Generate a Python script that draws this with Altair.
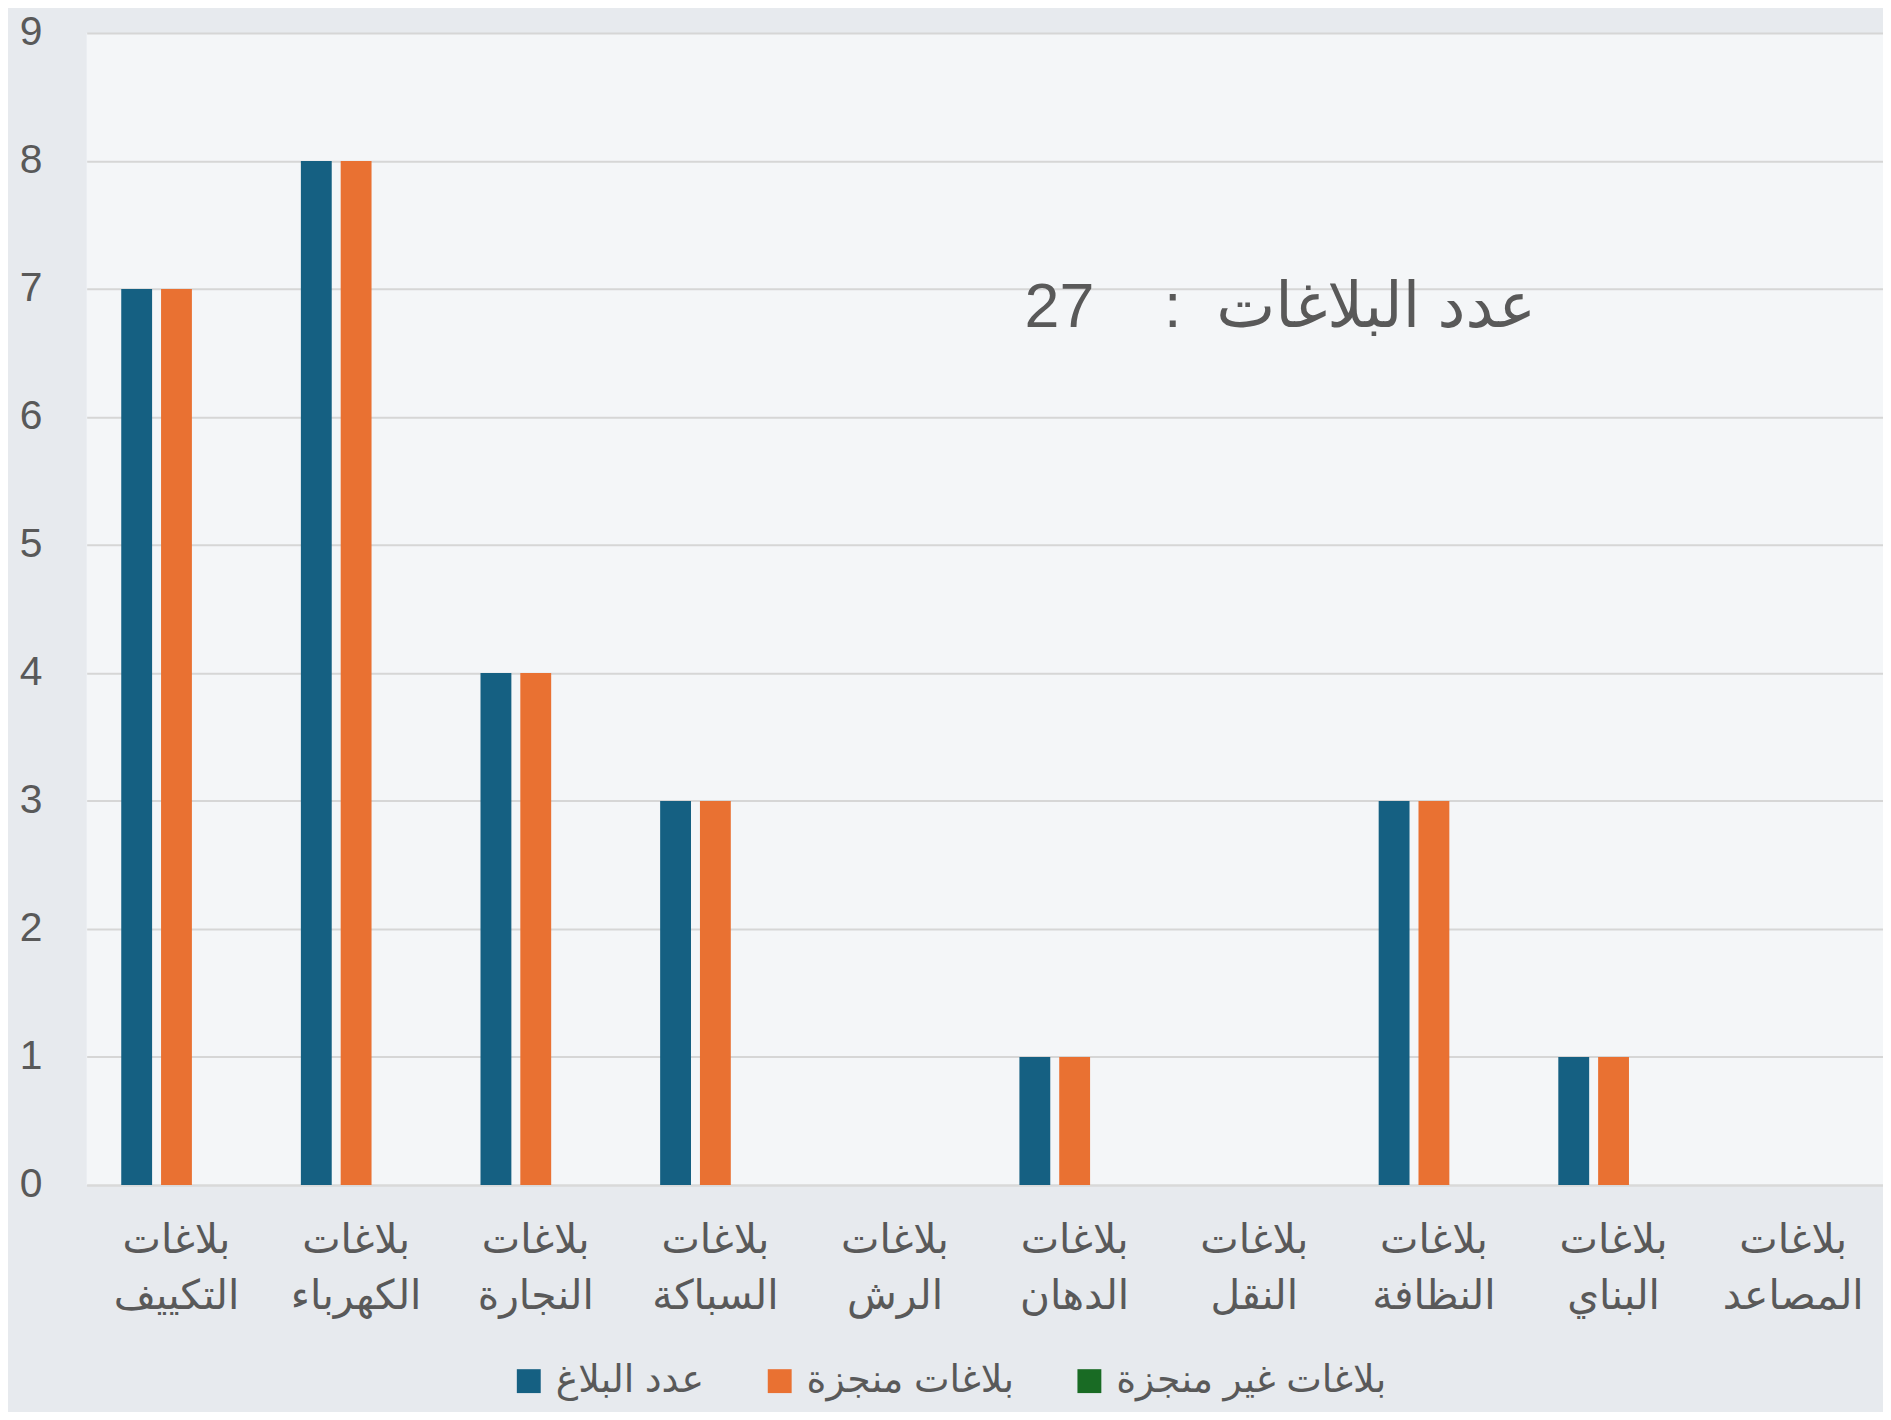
import altair as alt
import pandas as pd

categories = [
    "بلاغات التكييف",
    "بلاغات الكهرباء",
    "بلاغات النجارة",
    "بلاغات السباكة",
    "بلاغات الرش",
    "بلاغات الدهان",
    "بلاغات النقل",
    "بلاغات النظافة",
    "بلاغات البناي",
    "بلاغات المصاعد",
]
series = ["عدد البلاغ", "بلاغات منجزة", "بلاغات غير منجزة"]
reported = [7, 8, 4, 3, 0, 1, 0, 3, 1, 0]
completed = [7, 8, 4, 3, 0, 1, 0, 3, 1, 0]
not_completed = [0, 0, 0, 0, 0, 0, 0, 0, 0, 0]
colors = ["#156082", "#E97132", "#196B24"]
y_ticks = [0, 1, 2, 3, 4, 5, 6, 7, 8, 9]

note_category = ["بلاغات النقل"]
note_value = [6.85]
note_text = ["27\u00a0\u00a0\u00a0\u00a0:\u00a0\u00a0عدد البلاغات"]

rows = []
for s, vals in zip(series, [reported, completed, not_completed]):
    for c, v in zip(categories, vals):
        rows.append({"category": c, "series": s, "value": v})
df = pd.DataFrame(rows)
note_df = pd.DataFrame({"category": note_category, "value": note_value, "text": note_text})

FONT = "Liberation Sans, DejaVu Sans, sans-serif"
TXT = "#595959"

x_enc = alt.X(
    "category:N",
    sort=categories,
    scale=alt.Scale(paddingInner=0.385, paddingOuter=0.1925),
    axis=alt.Axis(
        title=None,
        labelAngle=0,
        labelExpr="split(datum.label, ' ')",
        labelFontSize=41,
        labelLineHeight=56,
        labelPadding=36,
        labelColor=TXT,
        labelFont=FONT,
        ticks=False,
        domain=True,
        domainColor="#d9d9d9",
        domainWidth=2,
        grid=False,
    ),
)

bars = alt.Chart(df).mark_bar().encode(
    x=x_enc,
    xOffset=alt.XOffset("series:N", sort=series, scale=alt.Scale(paddingInner=0.225, paddingOuter=0)),
    y=alt.Y(
        "value:Q",
        scale=alt.Scale(domain=[0, 9], nice=False),
        axis=alt.Axis(
            title=None,
            values=y_ticks,
            format="d",
            labelFontSize=41,
            labelPadding=45,
            labelColor=TXT,
            labelFont=FONT,
            ticks=False,
            domain=False,
            grid=True,
            gridColor="#d6d6d6",
            gridWidth=2,
        ),
    ),
    color=alt.Color(
        "series:N",
        sort=series,
        scale=alt.Scale(domain=series, range=colors),
        legend=alt.Legend(
            title=None,
            orient="none",
            direction="horizontal",
            legendX=425,
            legendY=1335,
            symbolType="square",
            symbolSize=576,
            symbolStrokeWidth=0,
            labelFontSize=38,
            labelFont=FONT,
            labelColor=TXT,
            labelLimit=0,
            labelOffset=8,
            columnPadding=56,
        ),
    ),
)

note = alt.Chart(note_df).mark_text(
    fontSize=63, font=FONT, color=TXT, align="center", baseline="middle", dx=26
).encode(
    x=alt.X("category:N", sort=categories),
    y=alt.Y("value:Q"),
    text="text:N",
)

chart = (
    alt.layer(bars, note)
    .properties(
        width=1804,
        height=1157,
        autosize=alt.AutoSizeParams(type="none"),
        padding={"left": 79, "top": 22, "right": 0, "bottom": 225},
        background="#e7eaee",
    )
    .configure_view(fill="#f4f6f8", stroke=None)
)

chart.save("out.html", embed_options={"renderer": "svg", "actions": False})
